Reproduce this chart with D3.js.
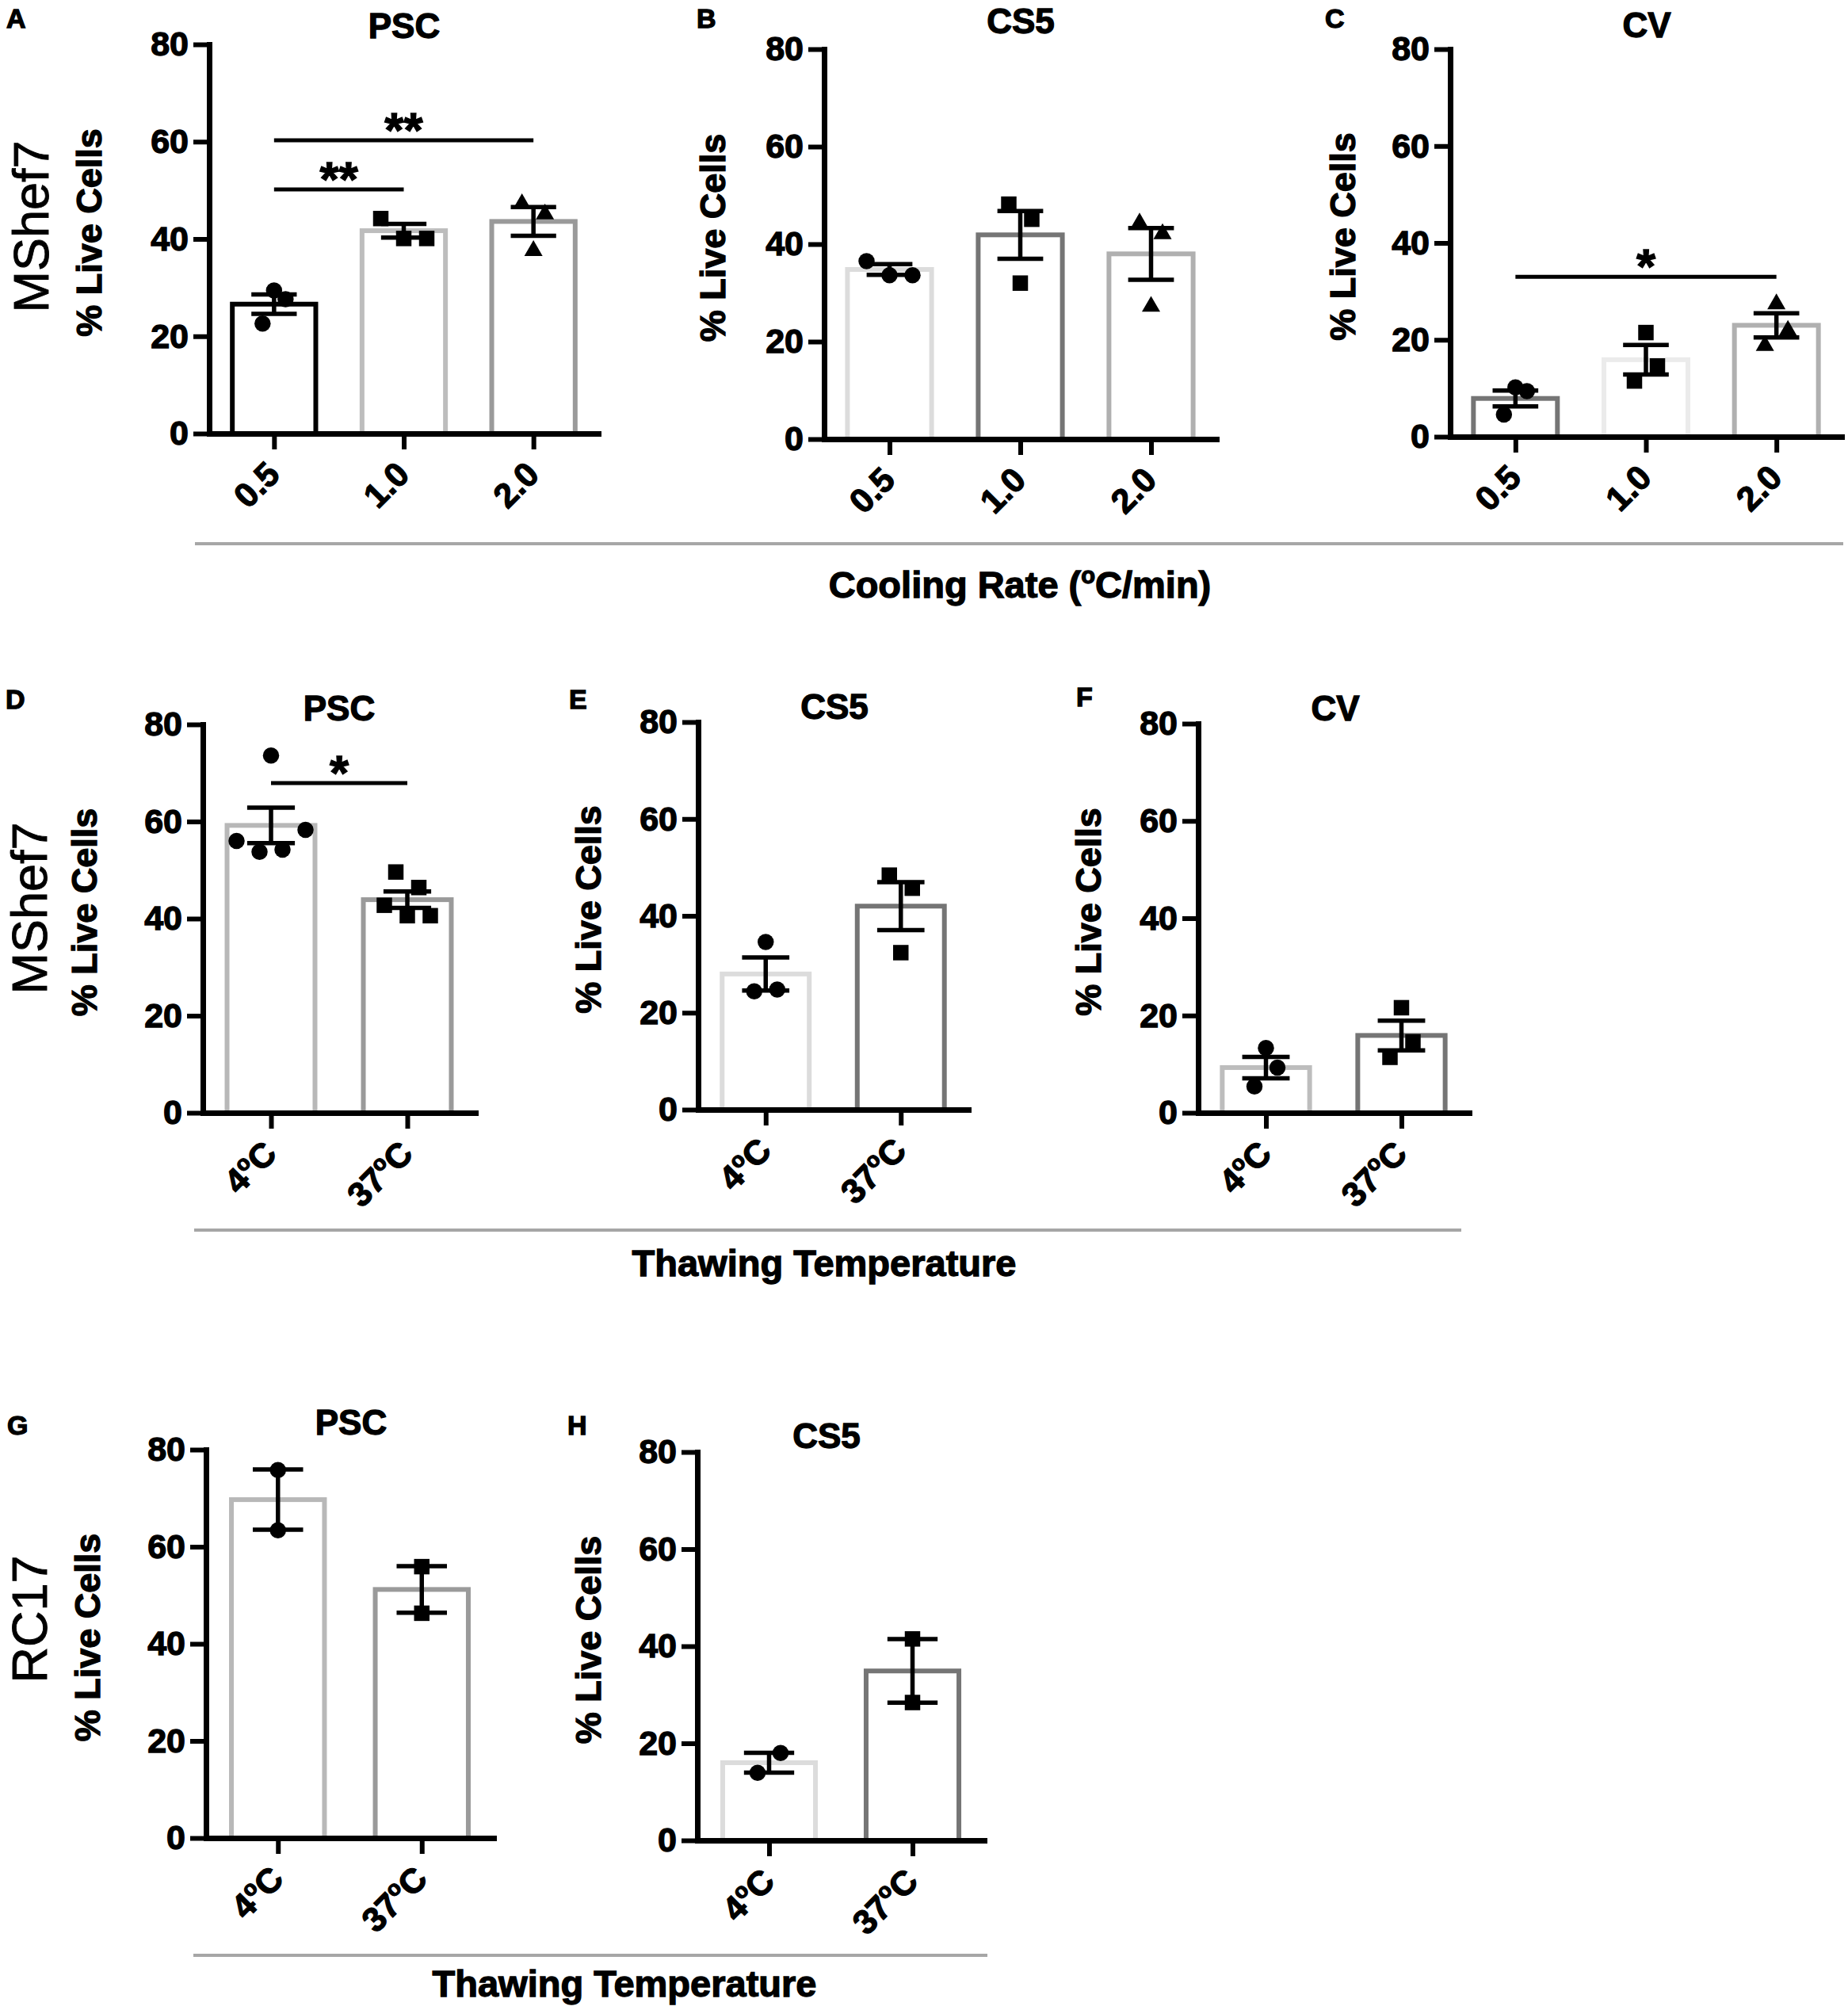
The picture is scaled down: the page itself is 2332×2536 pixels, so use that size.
<!DOCTYPE html>
<html><head><meta charset="utf-8">
<script src="https://cdn.jsdelivr.net/npm/d3@7"></script>
<style>
body{margin:0;background:#fff}
svg{display:block}
text{font-family:"Liberation Sans",Arial,Helvetica,sans-serif}
text.heavy{stroke:#000;stroke-width:1.3px;paint-order:stroke}
text.row{stroke:#000;stroke-width:0.9px;paint-order:stroke}
</style>
</head><body>
<script>
// ---------------- DATA ----------------
const coolingRates = ["0.5", "1.0", "2.0"];
const thawTemps = ["4ºC", "37ºC"];
const yTickValues = [0, 20, 40, 60, 80];
const panelLetters = ["A", "B", "C", "D", "E", "F", "G", "H"];
const panelTitles = ["PSC", "CS5", "CV", "PSC", "CS5", "CV", "PSC", "CS5"];
const rowLabels = ["MShef7", "MShef7", "RC17"];
const coolingAxisTitle = "Cooling Rate (ºC/min)";
const thawAxisTitle = "Thawing Temperature";

// Panel A: PSC, cooling rate (MShef7)
const meansA = [26.6, 41.7, 43.6];
const semA = [2.0, 1.4, 2.95];
const pointsA = [[29.4, 27.6, 22.6], [44.2, 40.1, 40.1], [47.2, 45.1, 37.6]];
const sigA = [{from: 0, to: 1, value: 50.2, label: "**"}, {from: 0, to: 2, value: 60.3, label: "**"}];

// Panel B: CS5, cooling rate (MShef7)
const meansB = [34.8, 41.9, 38.0];
const semB = [1.1, 4.9, 5.3];
const pointsB = [[36.5, 33.6, 33.6], [48.2, 45.1, 32.0], [44.3, 42.1, 27.2]];

// Panel C: CV, cooling rate (MShef7)
const meansC = [7.9, 15.9, 23.0];
const semC = [1.65, 3.05, 2.5];
const pointsC = [[10.2, 9.4, 4.6], [21.5, 14.6, 11.5], [27.4, 21.9, 18.8]];
const sigC = [{from: 0, to: 2, value: 33.0, label: "*"}];

// Panel D: PSC, thawing (MShef7)
const meansD = [59.2, 43.9];
const semD = [3.65, 1.7];
const pointsD = [[73.6, 56.0, 58.3, 53.75, 54.2], [49.6, 46.4, 42.75, 40.6, 40.6]];
const sigD = [{from: 0, to: 1, value: 67.9, label: "*"}];

// Panel E: CS5, thawing (MShef7)
const meansE = [28.0, 42.0];
const semE = [3.4, 4.95];
const pointsE = [[34.6, 24.4, 24.8], [48.4, 45.7, 32.4]];

// Panel F: CV, thawing (MShef7)
const meansF = [9.3, 15.9];
const semF = [2.2, 3.05];
const pointsF = [[13.3, 9.3, 5.4], [21.6, 14.6, 11.4]];

// Panel G: PSC, thawing (RC17)
const meansG = [69.7, 51.2];
const semG = [6.2, 4.8];
const pointsG = [[75.8, 63.4], [55.9, 46.3]];

// Panel H: CS5, thawing (RC17)
const meansH = [16.0, 34.9];
const semH = [2.05, 6.55];
const pointsH = [[18.0, 13.9], [41.5, 28.4]];

// ---------------- LAYOUT / STYLE ----------------
// horizontal spread slot of each dot (GraphPad style scatter), in dot units
const jitter = {
  A: [[0, 1, -1], [-2, 0, 2], [-1, 1, 0]],
  B: [[-2, 0, 2], [-1, 1, 0], [-1, 1, 0]],
  C: [[0, 1, -1], [0, 1, -1], [0, 1, -1]],
  D: [[0, -3, 3, -1, 1], [-1, 1, -2, 0, 2]],
  E: [[0, -1, 1], [-1, 1, 0]],
  F: [[0, 1, -1], [0, 1, -1]],
  G: [[0, 0], [0, 0]],
  H: [[1, -1], [0, 0]]
};
const barColors = {
  A: ["#000000", "#bdbdbd", "#9a9a9a"],
  B: ["#dcdcdc", "#757575", "#b0b0b0"],
  C: ["#757575", "#ebebeb", "#b0b0b0"],
  D: ["#b8b8b8", "#9a9a9a"],
  E: ["#dcdcdc", "#757575"],
  F: ["#bdbdbd", "#757575"],
  G: ["#b8b8b8", "#9a9a9a"],
  H: ["#dcdcdc", "#757575"]
};
const layout = {
  A: {ax: 264, end: 755, top: 56, bot: 547, tx: 510, ty: 48, lx: 8, ly: 35, ylx: 112},
  B: {ax: 1040, end: 1535, top: 62, bot: 554, tx: 1288, ty: 42, lx: 879, ly: 35, ylx: 899},
  C: {ax: 1830, end: 2324, top: 62, bot: 551, tx: 2078, ty: 47, lx: 1672, ly: 35, ylx: 1694},
  D: {ax: 256, end: 600, top: 914, bot: 1404, tx: 428, ty: 909, lx: 7, ly: 894, ylx: 106},
  E: {ax: 881, end: 1222, top: 911, bot: 1400, tx: 1053, ty: 907, lx: 718, ly: 894, ylx: 742},
  F: {ax: 1512, end: 1854, top: 913, bot: 1404, tx: 1685, ty: 909, lx: 1358, ly: 891, ylx: 1373},
  G: {ax: 260, end: 623, top: 1829, bot: 2319, tx: 443, ty: 1810, lx: 9, ly: 1810, ylx: 110},
  H: {ax: 880, end: 1242, top: 1832, bot: 2322, tx: 1043, ty: 1827, lx: 716, ly: 1810, ylx: 742}
};

const panels = [
  {id: "A", cats: coolingRates, means: meansA, sem: semA, points: pointsA, sig: sigA},
  {id: "B", cats: coolingRates, means: meansB, sem: semB, points: pointsB, sig: []},
  {id: "C", cats: coolingRates, means: meansC, sem: semC, points: pointsC, sig: sigC},
  {id: "D", cats: thawTemps, means: meansD, sem: semD, points: pointsD, sig: sigD},
  {id: "E", cats: thawTemps, means: meansE, sem: semE, points: pointsE, sig: []},
  {id: "F", cats: thawTemps, means: meansF, sem: semF, points: pointsF, sig: []},
  {id: "G", cats: thawTemps, means: meansG, sem: semG, points: pointsG, sig: []},
  {id: "H", cats: thawTemps, means: meansH, sem: semH, points: pointsH, sig: []}
];

const W = 2332, H = 2536;
const FONT = '"Liberation Sans", Arial, Helvetica, sans-serif';
const svg = d3.select("body").append("svg").attr("width", W).attr("height", H);
svg.append("rect").attr("width", W).attr("height", H).attr("fill", "#fff");

// text with a superscript "o" replacing the º sign
function superText(sel, str, fs) {
  const parts = str.split("º");
  const shift = fs * 0.38;
  sel.text(null);
  sel.append("tspan").text(parts[0]);
  if (parts.length > 1) {
    sel.append("tspan").attr("dy", -shift).attr("font-size", fs * 0.62).text("o");
    sel.append("tspan").attr("dy", shift).text(parts[1]);
  }
}

const shapes = [d3.symbolCircle, d3.symbolSquare, d3.symbolTriangle];
const shapeSizes = [330, 380, 230];

panels.forEach((p, pi) => {
  const L = layout[p.id];
  const g = svg.append("g");
  const y = d3.scaleLinear().domain([0, 80]).range([L.bot, L.top]);
  const x = d3.scalePoint().domain(p.cats).range([L.ax, L.end]).padding(0.5);
  const step = x.step();
  const sw = 6;
  const bw = step * 0.68 - sw;
  const capW = step * 0.35;
  const dotStep = 14.5;

  // bars
  g.selectAll("rect.bar").data(p.means).join("rect").attr("class", "bar")
    .attr("x", (d, i) => x(p.cats[i]) - bw / 2)
    .attr("y", d => y(d))
    .attr("width", bw)
    .attr("height", d => y(0) - y(d))
    .attr("fill", "#fff")
    .attr("stroke", (d, i) => barColors[p.id][i])
    .attr("stroke-width", sw);

  // points
  const pts = [];
  p.points.forEach((arr, i) => arr.forEach((v, j) => pts.push({i, v, k: jitter[p.id][i][j]})));
  g.selectAll("path.pt").data(pts).join("path").attr("class", "pt")
    .attr("d", d => d3.symbol(shapes[d.i], shapeSizes[d.i])())
    .attr("transform", d => `translate(${x(p.cats[d.i]) + d.k * dotStep},${y(d.v)})`)
    .attr("fill", "#000");

  // error bars (mean ± SEM)
  const eb = g.selectAll("g.eb").data(p.means).join("g").attr("class", "eb")
    .attr("stroke", "#000").attr("stroke-width", 5.5);
  eb.append("line")
    .attr("x1", (d, i) => x(p.cats[i])).attr("x2", (d, i) => x(p.cats[i]))
    .attr("y1", (d, i) => y(d - p.sem[i])).attr("y2", (d, i) => y(d + p.sem[i]));
  [1, -1].forEach(sgn => {
    eb.append("line")
      .attr("x1", (d, i) => x(p.cats[i]) - capW / 2).attr("x2", (d, i) => x(p.cats[i]) + capW / 2)
      .attr("y1", (d, i) => y(d + sgn * p.sem[i])).attr("y2", (d, i) => y(d + sgn * p.sem[i]));
  });

  // significance brackets
  p.sig.forEach(s => {
    const x1 = x(p.cats[s.from]), x2 = x(p.cats[s.to]);
    g.append("line").attr("x1", x1).attr("x2", x2)
      .attr("y1", y(s.value)).attr("y2", y(s.value))
      .attr("stroke", "#000").attr("stroke-width", 5);
    g.append("text").attr("class", "heavy").attr("x", (x1 + x2) / 2).attr("y", y(s.value) + 8)
      .attr("text-anchor", "middle").attr("font-size", 62).attr("font-weight", "bold")
      .text(s.label);
  });

  // y axis
  const ya = g.append("g").attr("transform", `translate(${L.ax},0)`)
    .call(d3.axisLeft(y).tickValues(yTickValues).tickSize(20).tickSizeOuter(0).tickPadding(6));
  ya.attr("font-family", FONT).attr("font-size", 43);
  ya.select(".domain").attr("stroke", "#000").attr("stroke-width", 7).attr("stroke-linecap", "square");
  ya.selectAll(".tick line").attr("stroke", "#000").attr("stroke-width", 6);
  ya.selectAll(".tick text").attr("class", "heavy").attr("font-weight", "bold").attr("fill", "#000");

  // x axis
  const xa = g.append("g").attr("transform", `translate(0,${L.bot})`)
    .call(d3.axisBottom(x).tickSize(20).tickSizeOuter(0));
  xa.attr("font-family", FONT).attr("font-size", 43);
  xa.select(".domain").attr("stroke", "#000").attr("stroke-width", 7).attr("stroke-linecap", "square");
  xa.selectAll(".tick line").attr("stroke", "#000").attr("stroke-width", 6);
  xa.selectAll(".tick text")
    .attr("class", "heavy")
    .attr("x", 0).attr("y", 0).attr("dy", null)
    .attr("text-anchor", "end").attr("font-weight", "bold").attr("fill", "#000")
    .attr("transform", "translate(9,54) rotate(-45)")
    .each(function(d) { superText(d3.select(this), d, 43); });

  // y axis title
  const ymid = (L.top + L.bot) / 2 - 8;
  g.append("text").attr("class", "heavy")
    .attr("transform", `translate(${L.ylx + 0.36 * 45},${ymid}) rotate(-90)`)
    .attr("text-anchor", "middle").attr("font-size", 45).attr("font-weight", "bold")
    .text("% Live Cells");

  // panel title
  g.append("text").attr("class", "heavy").attr("x", L.tx).attr("y", L.ty).attr("text-anchor", "middle")
    .attr("font-size", 44).attr("font-weight", "bold").text(panelTitles[pi]);

  // panel letter
  g.append("text").attr("class", "heavy").attr("x", L.lx).attr("y", L.ly)
    .attr("font-size", 34).attr("font-weight", "bold").text(panelLetters[pi]);
});

// row labels (cell lines)
const rowLabelPos = [{x: 38, y: 286}, {x: 36, y: 1146}, {x: 36, y: 2043}];
rowLabels.forEach((t, i) => {
  svg.append("text").attr("class", "row")
    .attr("transform", `translate(${rowLabelPos[i].x + 0.36 * 63},${rowLabelPos[i].y}) rotate(-90)`)
    .attr("text-anchor", "middle").attr("font-size", 63).text(t);
});

// group separators & shared x titles
const groups = [
  {x1: 246, x2: 2326, y: 686, title: coolingAxisTitle, tx: 1287, ty: 754},
  {x1: 245, x2: 1844, y: 1552, title: thawAxisTitle, tx: 1040, ty: 1610},
  {x1: 244, x2: 1246, y: 2467, title: thawAxisTitle, tx: 788, ty: 2519}
];
groups.forEach(gr => {
  svg.append("line").attr("x1", gr.x1).attr("x2", gr.x2).attr("y1", gr.y).attr("y2", gr.y)
    .attr("stroke", "#a6a6a6").attr("stroke-width", 4);
  const t = svg.append("text").attr("class", "heavy").attr("x", gr.tx).attr("y", gr.ty)
    .attr("text-anchor", "middle").attr("font-size", 47).attr("font-weight", "bold");
  superText(t, gr.title, 47);
});
</script>
</body></html>
